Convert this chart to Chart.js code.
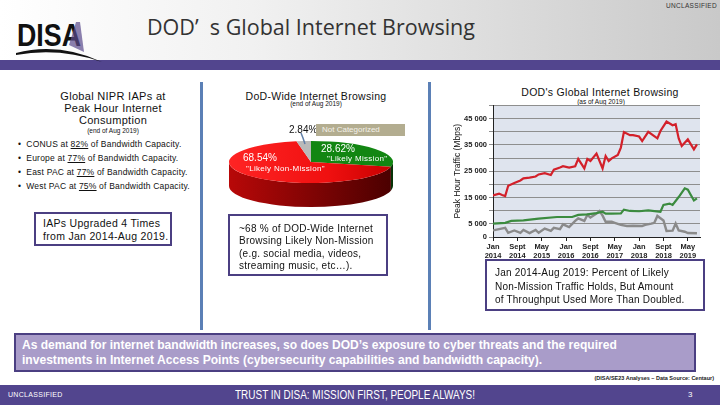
<!DOCTYPE html>
<html>
<head>
<meta charset="utf-8">
<script src="https://cdn.jsdelivr.net/npm/chart.js@4.4.1/dist/chart.umd.min.js"></script>
<style>
  body { margin: 0; width: 720px; height: 405px; overflow: hidden; position: relative; background: #fff;
         font-family: "Liberation Sans", Arial, sans-serif; color: #111; }
  .abs { position: absolute; white-space: nowrap; }
  .box { position: absolute; border: 2px solid #4b3f82; box-sizing: border-box; white-space: nowrap; }
  .vline { position: absolute; width: 3px; background: #5b80b6; }
  .bul { position: absolute; left: 18px; font-size: 8.5px; letter-spacing: 0.2px; white-space: nowrap; }
  .bul u { text-decoration-thickness: 1px; }
  .w { color: #fff; }
  .fit { position: absolute; white-space: nowrap; transform-origin: 0 0; }
</style>
</head>
<body>

<!-- header -->
<div class="abs" style="left:0;top:0;width:720px;height:60px;background:linear-gradient(90deg,#ffffff 0%,#f1f1f1 35%,#c9c9c9 100%)"></div>
<div class="abs" style="left:0;top:60px;width:720px;height:10px;background:#52458e"></div>
<svg class="abs" style="left:14px;top:12px" width="110" height="50">
  <text x="3" y="34" font-family="Liberation Sans" font-weight="bold" font-size="31" textLength="64" lengthAdjust="spacingAndGlyphs" fill="#111">DISA</text>
  <path d="M2 41 Q 45 30 88 50 Q 45 35 2 43 Z" fill="#111"/>
  <path d="M55 33 L62 10 L66 10 L70 40 Z" fill="#5a4a8c" opacity="0.7"/>
</svg>
<div class="fit" id="title" data-w="328" style="left:147px;top:11px;font-family:'Open Sans';font-size:22.5px;color:#333">DOD’&nbsp;&nbsp;s Global Internet Browsing</div>
<div class="abs" style="right:3px;top:2px;font-size:6.5px;color:#333;letter-spacing:0.3px">UNCLASSIFIED</div>

<!-- dividers -->
<div class="vline" style="left:200px;top:82px;height:248px"></div>
<div class="vline" style="left:428px;top:82px;height:248px"></div>

<!-- left column -->
<div class="abs" style="left:40px;top:90px;width:146px;text-align:center;font-size:11px;line-height:12px;letter-spacing:0.3px">Global NIPR IAPs at<br>Peak Hour Internet<br>Consumption</div>
<div class="abs" style="left:40px;top:127px;width:146px;text-align:center;font-size:6.5px">(end of Aug 2019)</div>
<div class="bul" style="top:139px">•&nbsp;&nbsp;CONUS at <u>82%</u> of Bandwidth Capacity.</div>
<div class="bul" style="top:153px">•&nbsp;&nbsp;Europe at <u>77%</u> of Bandwidth Capacity.</div>
<div class="bul" style="top:167px">•&nbsp;&nbsp;East PAC at <u>77%</u> of Bandwidth Capacity.</div>
<div class="bul" style="top:181px">•&nbsp;&nbsp;West PAC at <u>75%</u> of Bandwidth Capacity.</div>
<div class="box" style="left:34px;top:212px;width:138px;height:34px;padding:3px 0 0 7px;font-size:10.5px;line-height:13px;letter-spacing:0.3px">IAPs Upgraded 4 Times<br>from Jan 2014-Aug 2019.</div>

<!-- middle column -->
<div class="abs" style="left:236px;top:90px;width:160px;text-align:center;font-size:10.5px;letter-spacing:0.3px">DoD-Wide Internet Browsing</div>
<div class="abs" style="left:256px;top:100px;width:120px;text-align:center;font-size:6.5px">(end of Aug 2019)</div>
<canvas id="pieChart" class="abs" style="left:229px;top:80px" width="164" height="164"></canvas>
<div class="abs" id="lblUncat" style="left:289px;top:124px;font-size:10px"></div>
<div class="abs" style="left:316px;top:124px;width:89px;height:12px;background:#b3ad90"></div>
<div class="abs w" id="lblUncatName" style="left:322px;top:125px;font-size:8px;color:#f4f2ea"></div>
<svg class="abs" style="left:298px;top:132px" width="12" height="14"><path d="M3 1 L5 6 L7 12" stroke="#5f7fa8" stroke-width="1.5" fill="none"/></svg>
<div class="abs w" id="lblMission" style="left:321px;top:143px;font-size:10px"></div>
<div class="abs w" id="lblMissionName" style="left:327px;top:154px;font-size:8px;letter-spacing:0.3px"></div>
<div class="abs w" id="lblNon" style="left:243px;top:152px;font-size:10px"></div>
<div class="abs w" id="lblNonName" style="left:246px;top:164px;font-size:8px;letter-spacing:0.3px"></div>
<div class="box" style="left:228px;top:214px;width:160px;height:62px;padding:7px 0 0 9px;font-size:10px;line-height:12.3px;letter-spacing:0.25px">~68 % of DOD-Wide Internet<br>Browsing Likely Non-Mission<br>(e.g. social media, videos,<br>streaming music, etc…).</div>

<!-- right column -->
<div class="abs" style="left:510px;top:86px;width:180px;text-align:center;font-size:10.5px;letter-spacing:0.3px">DOD's Global Internet Browsing</div>
<div class="abs" style="left:570px;top:98px;width:62px;text-align:center;font-size:6.5px">(as of Aug 2019)</div>
<canvas id="lineChart" class="abs" style="left:440px;top:99px" width="262" height="166"></canvas>
<div class="box" style="left:485px;top:259px;width:220px;height:52px;padding:5px 0 0 8px;font-size:10px;line-height:13.5px;letter-spacing:0.2px">Jan 2014-Aug 2019: Percent of Likely<br>Non-Mission Traffic Holds, But Amount<br>of Throughput Used More Than Doubled.</div>

<!-- bottom -->
<div class="box" style="left:14px;top:333px;width:682px;height:39px;background:#a99cc9"></div>
<div class="fit w" data-w="595" style="left:22px;top:337px;font-weight:bold;font-size:13px;line-height:15px">As demand for internet bandwidth increases, so does DOD’s exposure to cyber threats and the required</div>
<div class="fit w" data-w="520" style="left:22px;top:352px;font-weight:bold;font-size:13px;line-height:15px">investments in Internet Access Points (cybersecurity capabilities and bandwidth capacity).</div>
<div class="abs" style="right:6px;top:375px;font-size:5.5px;font-weight:bold;color:#222">(DISA/SE23 Analyses – Data Source: Centaur)</div>
<div class="abs" style="left:0;top:385px;width:720px;height:20px;background:#52458e"></div>
<div class="abs w" style="left:8px;top:391px;font-size:7px;letter-spacing:0.3px">UNCLASSIFIED</div>
<div class="fit w" data-w="240" style="left:235px;top:388px;font-size:12.5px">TRUST IN DISA: MISSION FIRST, PEOPLE ALWAYS!</div>
<div class="abs w" style="left:688px;top:390px;font-size:8px">3</div>

<script>
// pie: share of DoD-wide browsing (end of Aug 2019)
const pieLabels = ['"Likely Mission"', '"Likely Non-Mission"', 'Not Categorized'];
const pieValues = [28.62, 68.54, 2.84];

// line chart: peak hour traffic (Mbps), x = months since Jan 2014
const nonMissionMonths = [0, 2, 3, 4, 5, 7, 9, 10, 12, 14, 15, 17, 19, 20, 22, 23, 25, 27, 28, 30, 31, 32, 34, 35, 36, 37, 38, 39, 41, 42, 43, 45, 46, 48, 49, 51, 54, 55, 57, 59, 60, 61, 62, 64, 66, 67];
const nonMissionMbps = [15800, 16500, 16000, 15600, 19500, 20500, 21500, 22300, 22600, 23000, 23800, 24300, 23600, 25600, 26400, 26900, 26400, 26900, 29700, 26100, 29700, 28900, 31700, 28900, 26100, 30800, 28900, 29900, 31200, 34000, 39900, 38700, 38700, 38200, 36500, 40000, 37500, 40300, 43900, 42500, 42900, 37500, 34600, 37100, 33300, 35200];

const missionMonths = [0, 4, 6, 10, 15, 21, 26, 28, 31, 34, 36, 37, 39, 42, 43, 45, 48, 51, 55, 56, 58, 59, 61, 63, 64, 66, 67];
const missionMbps = [5100, 5400, 6100, 6300, 7000, 7600, 7600, 8400, 8600, 9100, 9600, 8900, 8900, 9000, 10400, 9900, 9800, 10100, 9600, 12200, 12700, 12200, 15200, 18500, 18000, 13900, 14700];

const uncatMonths = [0, 2, 4, 5, 7, 9, 10, 12, 14, 15, 17, 19, 20, 22, 23, 25, 27, 28, 30, 31, 32, 34, 35, 36, 37, 39, 40, 42, 44, 46, 49, 50, 52, 53, 54, 56, 57, 59, 60, 61, 63, 64, 67];
const uncatMbps = [2500, 3000, 3500, 1600, 2500, 1600, 2700, 1500, 2700, 1600, 3200, 2300, 3500, 3000, 4800, 3800, 6100, 7100, 6100, 8400, 7400, 8900, 9900, 8100, 5800, 5800, 5400, 4600, 4200, 4300, 4200, 4600, 5100, 5400, 8000, 6300, 2300, 2400, 5100, 2500, 2000, 1500, 1400];

const xTickMonths = [0, 8, 16, 24, 32, 40, 48, 56, 64];
const xTickLabels = [['Jan', '2014'], ['Sept', '2014'], ['May', '2015'], ['Jan', '2016'], ['Sept', '2016'], ['May', '2017'], ['Jan', '2018'], ['Sept', '2018'], ['May', '2019']];
const yTickLabels = [0, 5000, 15000, 25000, 35000, 45000];

// squeeze text that has to fit a given width
document.querySelectorAll('.fit').forEach(el => {
    const k = Number(el.dataset.w) / el.offsetWidth;
    el.style.transform = 'scaleX(' + k + ')';
});

// labels round the pie
document.getElementById('lblMission').textContent = pieValues[0].toFixed(2) + '%';
document.getElementById('lblMissionName').textContent = pieLabels[0];
document.getElementById('lblNon').textContent = pieValues[1].toFixed(2) + '%';
document.getElementById('lblNonName').textContent = pieLabels[1];
document.getElementById('lblUncat').textContent = pieValues[2].toFixed(2) + '%';
document.getElementById('lblUncatName').textContent = pieLabels[2];

const tilt = 0.256;   // squash of the pie top
const depth = 24;     // height of the pie side in px
const sideColors = [['#0d560d', '#073307'], ['#b80808', '#4a0000'], ['#777', '#555']];

// draws the pie flattened, with a side band, so it looks 3D
const pie3d = {
    id: 'pie3d',
    beforeDatasetsDraw(chart) {
        const ctx = chart.ctx;
        const arcs = chart.getDatasetMeta(0).data;
        const {x, y, outerRadius} = arcs[0];
        const r = outerRadius;
        ctx.save();
        arcs.forEach((arc, i) => {
            const s = Math.max(arc.startAngle, 0);
            const e = Math.min(arc.endAngle, Math.PI);
            if (s >= e) return;
            const g = ctx.createLinearGradient(x - r, 0, x + r, 0);
            g.addColorStop(0, sideColors[i][0]);
            g.addColorStop(1, sideColors[i][1]);
            ctx.fillStyle = g;
            ctx.beginPath();
            ctx.ellipse(x, y, r, r * tilt, 0, s, e, false);
            ctx.ellipse(x, y + depth, r, r * tilt, 0, e, s, true);
            ctx.closePath();
            ctx.fill();
        });
        ctx.translate(0, y);
        ctx.scale(1, tilt);
        ctx.translate(0, -y);
    },
    afterDatasetsDraw(chart) {
        chart.ctx.restore();
    }
};

function faceColor(context) {
    const i = context.dataIndex;
    const {ctx, chartArea} = context.chart;
    if (!chartArea) return '#f00';
    if (i === 0) return '#128612';
    if (i === 2) return '#b9b9b9';
    const g = ctx.createLinearGradient(chartArea.left, 0, chartArea.right, 0);
    g.addColorStop(0, '#ff2424');
    g.addColorStop(0.6, '#f01010');
    g.addColorStop(1, '#c80000');
    return g;
}

new Chart(document.getElementById('pieChart'), {
    type: 'pie',
    data: {
        labels: pieLabels,
        datasets: [{ data: pieValues, backgroundColor: faceColor, borderWidth: 0 }]
    },
    options: {
        responsive: false,
        animation: false,
        rotation: 0,
        plugins: { legend: { display: false }, tooltip: { enabled: false } }
    },
    plugins: [pie3d]
});

const plotBg = {
    id: 'plotBg',
    beforeDraw(chart) {
        const {ctx, chartArea: {left, top, width, height}} = chart;
        ctx.save();
        ctx.fillStyle = '#dfe4ee';
        ctx.fillRect(left, top, width, height);
        ctx.restore();
    }
};

function points(months, vals) {
    return months.map((m, i) => ({ x: m, y: vals[i] }));
}

const tickFont = { family: 'Liberation Sans', size: 7.5, weight: 'bold' };

new Chart(document.getElementById('lineChart'), {
    type: 'line',
    data: {
        datasets: [
            { label: 'Likely Non-Mission', data: points(nonMissionMonths, nonMissionMbps), borderColor: '#d3202a', borderWidth: 2.2 },
            { label: 'Likely Mission', data: points(missionMonths, missionMbps), borderColor: '#3b8b3f', borderWidth: 2.2 },
            { label: 'Not Categorized', data: points(uncatMonths, uncatMbps), borderColor: '#8a8a8a', borderWidth: 2.4 }
        ]
    },
    options: {
        responsive: false,
        animation: false,
        elements: { point: { radius: 0 }, line: { tension: 0 } },
        layout: { padding: { top: 0, right: 2 } },
        plugins: { legend: { display: false }, tooltip: { enabled: false } },
        scales: {
            x: {
                type: 'linear', min: 0, max: 68,
                afterBuildTicks: scale => { scale.ticks = xTickMonths.map(v => ({ value: v })); },
                afterFit: scale => { scale.height = 28; },
                ticks: { autoSkip: false, maxRotation: 0, padding: 1, font: tickFont, color: '#222',
                         callback: (v, i) => xTickLabels[i] },
                grid: { drawOnChartArea: false, tickLength: 4, color: '#222' },
                border: { color: '#222' }
            },
            y: {
                min: 0, max: 50000,
                afterFit: scale => { scale.width = 53; },
                ticks: { stepSize: 5000, padding: 2, font: tickFont, color: '#222',
                         callback: v => yTickLabels.includes(v) ? (v === 0 ? '0' : (v / 1000) + ' 000') : '' },
                grid: { color: '#8e8e8e', tickLength: 4 },
                border: { color: '#222' },
                title: { display: true, text: 'Peak Hour Traffic (Mbps)', color: '#111',
                         font: { family: 'Liberation Sans', size: 8.5 }, padding: { top: 13, bottom: 0 } }
            }
        }
    },
    plugins: [plotBg]
});
</script>
</body>
</html>
